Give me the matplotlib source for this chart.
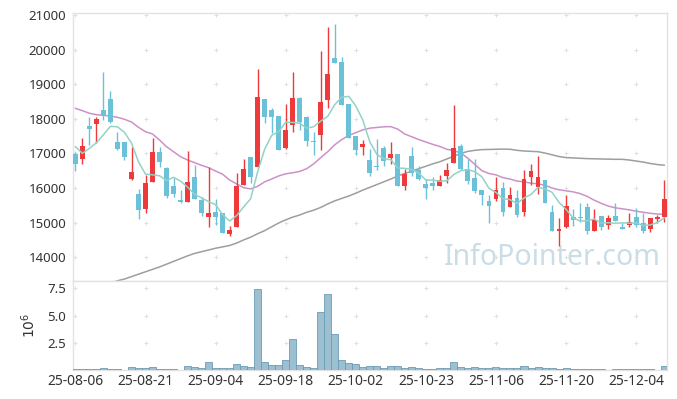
import numpy as np
import matplotlib.pyplot as plt

plt.rcParams['font.family'] = ['Noto Sans', 'DejaVu Sans']

# trading days shown on the chart
dates = ['25-08-06', '25-08-07', '25-08-08', '25-08-11', '25-08-12', '25-08-13', '25-08-14', '25-08-18', '25-08-19', '25-08-20',
         '25-08-21', '25-08-22', '25-08-25', '25-08-26', '25-08-27', '25-08-28', '25-08-29', '25-09-01', '25-09-02', '25-09-03',
         '25-09-04', '25-09-05', '25-09-08', '25-09-09', '25-09-10', '25-09-11', '25-09-12', '25-09-15', '25-09-16', '25-09-17',
         '25-09-18', '25-09-19', '25-09-22', '25-09-23', '25-09-24', '25-09-25', '25-09-26', '25-09-29', '25-09-30', '25-10-01',
         '25-10-02', '25-10-10', '25-10-13', '25-10-14', '25-10-15', '25-10-16', '25-10-17', '25-10-20', '25-10-21', '25-10-22',
         '25-10-23', '25-10-24', '25-10-27', '25-10-28', '25-10-29', '25-10-30', '25-10-31', '25-11-03', '25-11-04', '25-11-05',
         '25-11-06', '25-11-07', '25-11-10', '25-11-11', '25-11-12', '25-11-13', '25-11-14', '25-11-17', '25-11-18', '25-11-19',
         '25-11-20', '25-11-21', '25-11-24', '25-11-25', '25-11-26', '25-11-27', '25-11-28', '25-12-01', '25-12-02', '25-12-03',
         '25-12-04', '25-12-05', '25-12-08', '25-12-09', '25-12-10']

opens = [16980, 16850, 17790, 17860, 18250, 18570, 17330, 17330, 16270, 15830,
         15400, 16180, 17040, 16580, 16060, 15650, 15605, 16320, 15650, 15170,
         15310, 15280, 14680, 14880, 16100, 16900, 16620, 18570, 18255, 18080,
         17150, 17810, 18600, 18040, 17350, 17520, 18545, 19770, 19640, 18430,
         17500, 17195, 16810, 16635, 17155, 16875, 16985, 16065, 16925, 16520,
         16115, 16135, 16070, 16355, 16715, 17215, 16560, 16290, 15945, 15635,
         15675, 16000, 15460, 15710, 15305, 16330, 16020, 16230, 15305, 14750,
         14880, 15155, 15150, 15440, 14750, 15190, 14940, 15190, 14880, 14920,
         15170, 14980, 14825, 15115, 15155]
highs = [17050, 17440, 18040, 18040, 19345, 18795, 17630, 17330, 17180, 15970,
         16370, 17440, 17180, 16600, 16300, 15940, 17060, 16660, 15750, 16600,
         15690, 15290, 14910, 16430, 16850, 16900, 19430, 18575, 18300, 18090,
         18430, 19350, 18640, 18080, 17630, 19950, 20645, 20730, 19780, 18430,
         17500, 17390, 17140, 17405, 17215, 17320, 16990, 16550, 17195, 16635,
         16250, 16330, 16365, 16735, 18390, 17280, 16840, 16830, 15950, 15790,
         16330, 16175, 16020, 15945, 16520, 16695, 16925, 16240, 15520, 15135,
         15790, 15400, 15575, 15575, 15400, 15195, 15210, 15565, 15000, 15270,
         15420, 15270, 15140, 15210, 16230]
lows = [16500, 16690, 17250, 17290, 17965, 17870, 17100, 16810, 16230, 15100,
        15270, 16180, 16600, 15700, 15750, 15575, 15605, 15675, 15190, 14865,
        14920, 14690, 14620, 14880, 16100, 16150, 16620, 17890, 17580, 17090,
        17140, 17630, 17680, 17215, 16960, 17100, 18300, 19600, 18390, 17440,
        16960, 16960, 16350, 16520, 16635, 16695, 16060, 15945, 16345, 16240,
        15675, 15945, 16065, 16135, 16715, 16520, 16130, 15865, 15500, 14980,
        15635, 15190, 15440, 15150, 15190, 16080, 15825, 15570, 14745, 14325,
        14835, 14900, 15020, 14670, 14745, 14785, 14825, 15050, 14805, 14880,
        14880, 14710, 14730, 14980, 15020]
closes = [16700, 17210, 17710, 18000, 18090, 17910, 17140, 16900, 16460, 15360,
          16150, 17040, 16760, 15770, 15830, 15600, 16175, 15690, 15290, 15280,
          15170, 14710, 14790, 16060, 16550, 16330, 18630, 18040, 18060, 17100,
          17680, 18600, 17910, 17350, 17320, 18490, 19295, 19600, 18410, 17450,
          17100, 17270, 16445, 16610, 16790, 16985, 16065, 16395, 16445, 16250,
          16000, 16060, 16230, 16520, 17155, 16540, 16215, 15925, 15790, 15490,
          15945, 15310, 15790, 15230, 16270, 16480, 16310, 15580, 14750, 14805,
          15480, 15075, 15130, 14770, 15075, 14880, 15135, 15055, 14825, 15020,
          14940, 14750, 15135, 15150, 15690]

# moving averages as drawn on the chart
ma5 = [17195, 17003, 17147, 17310, 17542, 17784, 17770, 17608, 17300, 16754,
       16402, 16382, 16354, 16216, 16310, 16200, 16027, 15813, 15717, 15607,
       15521, 15228, 15048, 15202, 15456, 15688, 16472, 17122, 17522, 17632,
       17902, 17896, 17870, 17728, 17772, 17934, 18073, 18411, 18623, 18649,
       18371, 17966, 17335, 16975, 16843, 16820, 16579, 16569, 16536, 16428,
       16231, 16230, 16197, 16212, 16393, 16501, 16532, 16471, 16325, 15992,
       15873, 15692, 15665, 15553, 15709, 15816, 16016, 15974, 15878, 15585,
       15385, 15138, 15048, 15052, 15106, 14986, 14998, 14983, 14994, 14983,
       14995, 14918, 14934, 14999, 15133]
ma20 = [18303, 18235, 18160, 18120, 18100, 18081, 18044, 17986, 17908, 17754,
        17627, 17561, 17388, 17194, 17050, 16905, 16810, 16733, 16656, 16588,
        16490, 16400, 16230, 16120, 16010, 15975, 16050, 16180, 16260, 16350,
        16410, 16440, 16480, 16560, 16700, 16880, 17050, 17250, 17400, 17520,
        17600, 17680, 17730, 17750, 17770, 17775, 17700, 17560, 17480, 17400,
        17330, 17260, 17200, 17120, 17080, 17010, 16860, 16680, 16500, 16420,
        16380, 16300, 16260, 16200, 16180, 16140, 16120, 16080, 16000, 15950,
        15920, 15890, 15840, 15760, 15650, 15560, 15480, 15430, 15400, 15370,
        15330, 15300, 15270, 15250, 15240]
ma60 = [np.nan, np.nan, np.nan, np.nan, np.nan, 13250, 13320, 13370, 13440, 13510,
        13580, 13650, 13720, 13800, 13880, 13960, 14040, 14110, 14160, 14210,
        14260, 14300, 14340, 14410, 14500, 14580, 14680, 14770, 14880, 14990,
        15080, 15160, 15220, 15300, 15360, 15440, 15540, 15630, 15700, 15770,
        15850, 15940, 16020, 16100, 16180, 16260, 16350, 16420, 16490, 16560,
        16630, 16700, 16760, 16840, 16920, 17000, 17060, 17090, 17110, 17115,
        17120, 17125, 17120, 17090, 17070, 17060, 17050, 17010, 16960, 16910,
        16880, 16870, 16860, 16850, 16845, 16840, 16835, 16830, 16830, 16810,
        16780, 16750, 16710, 16680, 16660]

# volume in millions of shares
volume = [0.09, 0.10, 0.10, 0.10, 0.18, 0.10, 0.10, 0.02, 0.28, 0.18,
          0.18, 0.28, 0.10, 0.10, 0.10, 0.02, 0.37, 0.28, 0.18, 0.73,
          0.18, 0.18, 0.18, 0.55, 0.37, 0.28, 7.40, 0.73, 0.46, 0.46,
          0.92, 2.84, 0.46, 0.28, 0.18, 5.32, 6.97, 3.30, 0.92, 0.61,
          0.52, 0.28, 0.34, 0.34, 0.15, 0.34, 0.34, 0.18, 0.24, 0.18,
          0.09, 0.09, 0.15, 0.15, 0.73, 0.24, 0.15, 0.24, 0.18, 0.18,
          0.24, 0.15, 0.15, 0.15, 0.34, 0.15, 0.24, 0.15, 0.15, 0.09,
          0.18, 0.09, 0.09, 0.09, 0.09, 0.09, 0.01, 0.09, 0.09, 0.09,
          0.09, 0.09, 0.09, 0.01, 0.37]

price_ticks = [14000, 15000, 16000, 17000, 18000, 19000, 20000, 21000]
vol_ticks = [2.5, 5.0, 7.5]

UP = '#ef3a3b'
DOWN = '#6bc1d8'
FRAME = '#e2e2e2'
TEXT = '#333333'

x = np.arange(len(dates))
o = np.array(opens)
c = np.array(closes)
colors = [UP if cc > oo else DOWN for oo, cc in zip(o, c)]

fig = plt.figure(figsize=(6.77, 3.99), dpi=100)
ax = fig.add_axes([0.1078, 0.2957, 0.8774, 0.6717])
axv = fig.add_axes([0.1078, 0.0727, 0.8774, 0.2230], sharex=ax)

# candles
ax.vlines(x, lows, highs, colors=colors, linewidth=1.0, zorder=3)
body = np.maximum(np.abs(c - o), 30)
ax.bar(x, body, bottom=np.minimum(o, c), width=0.7, color=colors, linewidth=0, zorder=4)

# moving averages
ax.plot(x, ma60, color='#9e9e9e', linewidth=1.1, zorder=2)
ax.plot(x, ma20, color='#cc92c8', linewidth=1.1, zorder=2)
ax.plot(x, ma5, color='#93d2c6', linewidth=1.1, zorder=5)

# volume
axv.bar(x, volume, width=1.0, color='#9dc0d1', edgecolor='#6a9db7', linewidth=0.6, zorder=3)

xt = list(range(0, len(dates), 10))
ax.set_xlim(-0.35, 84.4)
ax.set_ylim(13313, 21058)
axv.set_ylim(0, 8.17)

ax.set_yticks(price_ticks)
ax.set_yticklabels([str(v) for v in price_ticks])
axv.set_yticks(vol_ticks)
axv.set_yticklabels(['%.1f' % v for v in vol_ticks])
axv.set_xticks(xt)
axv.set_xticklabels([dates[i] for i in xt])
ax.tick_params(axis='x', labelbottom=False, length=0)
ax.tick_params(axis='y', length=0, labelsize=9.5, colors=TEXT, pad=5)
axv.tick_params(axis='both', length=0, labelsize=9.5, colors=TEXT)
axv.tick_params(axis='x', labelsize=10, pad=3)
axv.tick_params(axis='y', pad=5)
axv.set_ylabel(r'$10^6$', fontsize=10, color=TEXT, labelpad=6)

# cross markers at grid intersections
for a, yt in ((ax, price_ticks), (axv, vol_ticks)):
    gx, gy = np.meshgrid(xt, yt)
    a.scatter(gx.ravel(), gy.ravel(), marker='+', s=12, color='#e0e0e0', linewidths=0.7, zorder=1)
    for s in a.spines.values():
        s.set_color(FRAME)
        s.set_linewidth(1.0)

ax.text(0.99, 0.035, 'InfoPointer.com', transform=ax.transAxes, ha='right', va='bottom',
        fontsize=20.5, color='#cadde7', zorder=0)

fig.savefig('out.png', dpi=100)
